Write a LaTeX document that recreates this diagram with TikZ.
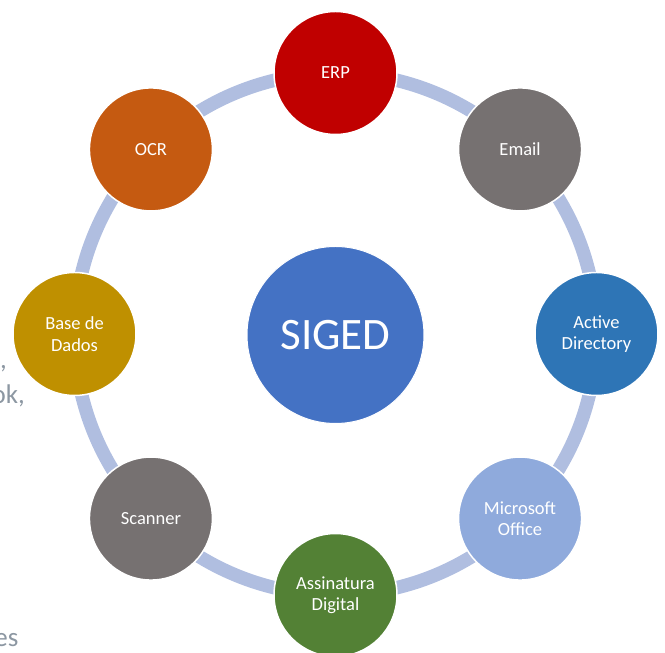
\documentclass[tikz,border=0pt]{standalone}
\usepackage{fontspec}
\setmainfont{Carlito}
\usetikzlibrary{backgrounds,calc}
\definecolor{ringc}{RGB}{176,190,224}
\definecolor{cerp}{RGB}{192,0,0}
\definecolor{cgray}{RGB}{118,113,113}
\definecolor{cad}{RGB}{46,117,182}
\definecolor{cmo}{RGB}{143,170,220}
\definecolor{cgreen}{RGB}{83,129,53}
\definecolor{cgold}{RGB}{191,144,0}
\definecolor{cocr}{RGB}{197,90,17}
\definecolor{csig}{RGB}{68,114,196}
\definecolor{bgtext}{RGB}{140,151,162}
\tikzset{
  x=1pt, y=1pt,
  sat/.style={circle, minimum size=123pt, inner sep=0pt, draw=white, line width=1.5pt,
    text=white, align=center, font=\fontsize{18.5}{21.5}\selectfont},
  hub/.style={circle, minimum size=177pt, inner sep=0pt, draw=white, line width=1pt,
    fill=csig, text=white, font=\fontsize{45}{50}\selectfont},
  ring/.style={draw=ringc, line width=13.5pt, bend left=22.5, looseness=0.885},
  behind/.style={text=bgtext, font=\fontsize{27}{30}\selectfont, inner sep=0pt}
}
\begin{document}
\begin{tikzpicture}
\useasboundingbox (0,0) rectangle (665,653);
\coordinate (c) at (335.5,319);
\node[behind, anchor=base west] (t1) at (0,284) {,};
\node[behind, anchor=base east] (t2) at (25,249) {ok,};
\node[behind, anchor=base east] (t3) at (18.5,6) {es};
\node[hub] (siged) at ($(c)+(0,-1)$) {SIGED};
\node[sat, fill=cerp] (erp) at ($(c)+(90:261)$) {ERP};
\node[sat, fill=cgray] (email) at ($(c)+(45:261)$) {Email};
\node[sat, fill=cad] (ad) at ($(c)+(0:261)$) {Active\\Directory};
\node[sat, fill=cmo] (mo) at ($(c)+(-45:261)$) {Microsoft\\Office};
\node[sat, fill=cgreen] (ass) at ($(c)+(-90:261)$) {Assinatura\\Digital};
\node[sat, fill=cgray] (scan) at ($(c)+(-135:261)$) {Scanner};
\node[sat, fill=cgold] (bd) at ($(c)+(180:261)$) {Base de\\Dados};
\node[sat, fill=cocr] (ocr) at ($(c)+(135:261)$) {OCR};
\begin{scope}[on background layer]
\draw[ring] (erp.center) to (email.center);
\draw[ring] (email.center) to (ad.center);
\draw[ring] (ad.center) to (mo.center);
\draw[ring] (mo.center) to (ass.center);
\draw[ring] (ass.center) to (scan.center);
\draw[ring] (scan.center) to (bd.center);
\draw[ring] (bd.center) to (ocr.center);
\draw[ring] (ocr.center) to (erp.center);
\end{scope}
\end{tikzpicture}
\end{document}
